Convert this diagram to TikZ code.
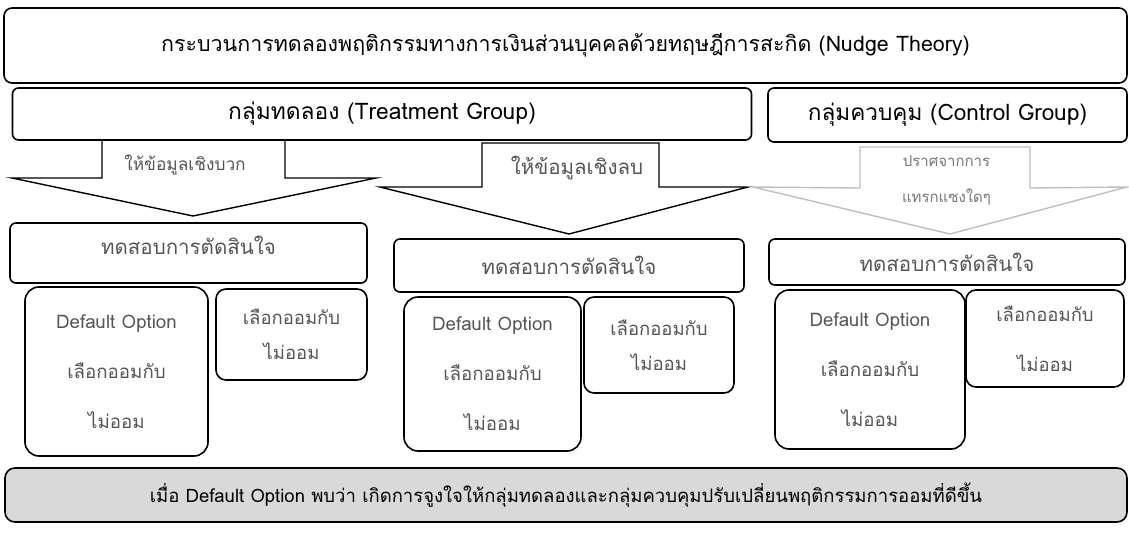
\documentclass[tikz,border=0pt]{standalone}
\usepackage{fontspec}
\setmainfont[Script=Thai]{Loma}
\definecolor{tgray}{HTML}{555555}
\definecolor{lgray}{HTML}{BFBFBF}
\definecolor{agray}{HTML}{777777}
\definecolor{bfill}{HTML}{D9D9D9}
\begin{document}
\begin{tikzpicture}[x=1pt,y=-1pt,
  box/.style={draw=black, line width=1.6pt, fill=white, inner sep=0pt, align=center},
  arrowshape/.style={draw=black, line width=1.4pt, fill=white, line join=miter},
  grayarrow/.style={draw=lgray, line width=1.4pt, fill=white, line join=miter},
  head/.style={font=\fontsize{21.4}{25}\selectfont, text=black},
  grp/.style={font=\fontsize{22.8}{26}\selectfont, text=black},
  lab/.style={font=\fontsize{17.3}{20}\selectfont, text=tgray},
  dec/.style={font=\fontsize{20.5}{24}\selectfont, text=tgray},
  opt/.style={font=\fontsize{18.7}{50}\selectfont, text=tgray, align=center},
]
\useasboundingbox (0,0) rectangle (1129,534);

% title
\node[box, rounded corners=8pt, minimum width=1123pt, minimum height=75pt, head] (title) at (565.5,45.5)
  {กระบวนการทดลองพฤติกรรมทางการเงินส่วนบุคคลด้วยทฤษฎีการสะกิด (Nudge Theory)};

% arrows (drawn before group boxes)
\path[arrowshape] (102,140) -- (285,140) -- (285,178) -- (376,178) -- (193,216) -- (12,178) -- (102,178) -- cycle;
\path[arrowshape] (482,143) -- (659,143) -- (659,187) -- (748,187) -- (569,234) -- (380,187) -- (482,187) -- cycle;
\path[grayarrow] (860,147) -- (1030,147) -- (1030,188) -- (1127,187) -- (950,234) -- (753,187) -- (860,188) -- cycle;

% groups
\node[box, rounded corners=6pt, minimum width=739pt, minimum height=52pt, grp] (treat) at (382,114)
  {กลุ่มทดลอง (Treatment Group)};
\node[box, rounded corners=6pt, minimum width=359pt, minimum height=54pt, grp, font=\fontsize{22.6}{26}\selectfont] (ctrl) at (947.5,115)
  {กลุ่มควบคุม (Control Group)};

% arrow labels
\node[lab] (pos) at (185,165) {ให้ข้อมูลเชิงบวก};
\node[lab, font=\fontsize{20.5}{22}\selectfont] (neg) at (577,168) {ให้ข้อมูลเชิงลบ};
\node[lab, text=agray, align=center, font=\fontsize{15}{36}\selectfont] (none) at (946.5,180) {ปราศจากการ\\แทรกแซงใดๆ};

% decision boxes
\node[box, rounded corners=6pt, minimum width=357pt, minimum height=60pt, dec, text depth=15pt] (d1) at (188.5,253) {ทดสอบการตัดสินใจ};
\node[box, rounded corners=6pt, minimum width=350pt, minimum height=53pt, dec] (d2) at (569,265.5) {ทดสอบการตัดสินใจ};
\node[box, rounded corners=6pt, minimum width=356pt, minimum height=46pt, dec] (d3) at (947,262) {ทดสอบการตัดสินใจ};

% option boxes
\node[box, rounded corners=14pt, minimum width=183pt, minimum height=169pt, opt] (o1) at (116.5,371.5) {Default Option\\เลือกออมกับ\\ไม่ออม};
\node[box, rounded corners=10pt, minimum width=151pt, minimum height=91pt, opt, font=\fontsize{18.5}{35}\selectfont] (s1) at (291.5,334.5) {เลือกออมกับ\\ไม่ออม};
\node[box, rounded corners=14pt, minimum width=177pt, minimum height=154pt, opt] (o2) at (492.5,374) {Default Option\\เลือกออมกับ\\ไม่ออม};
\node[box, rounded corners=10pt, minimum width=150pt, minimum height=96pt, opt, font=\fontsize{18.5}{35}\selectfont] (s2) at (659,345) {เลือกออมกับ\\ไม่ออม};
\node[box, rounded corners=14pt, minimum width=190pt, minimum height=159pt, opt] (o3) at (870,369.5) {Default Option\\เลือกออมกับ\\ไม่ออม};
\node[box, rounded corners=10pt, minimum width=158pt, minimum height=97pt, opt, font=\fontsize{18.5}{50}\selectfont] (s3) at (1045,338.5) {เลือกออมกับ\\ไม่ออม};

% conclusion
\node[box, fill=bfill, rounded corners=10pt, minimum width=1122pt, minimum height=54pt, font=\fontsize{18.5}{22}\selectfont] (concl) at (566,495)
  {เมื่อ Default Option พบว่า เกิดการจูงใจให้กลุ่มทดลองและกลุ่มควบคุมปรับเปลี่ยนพฤติกรรมการออมที่ดีขึ้น};
\end{tikzpicture}
\end{document}
